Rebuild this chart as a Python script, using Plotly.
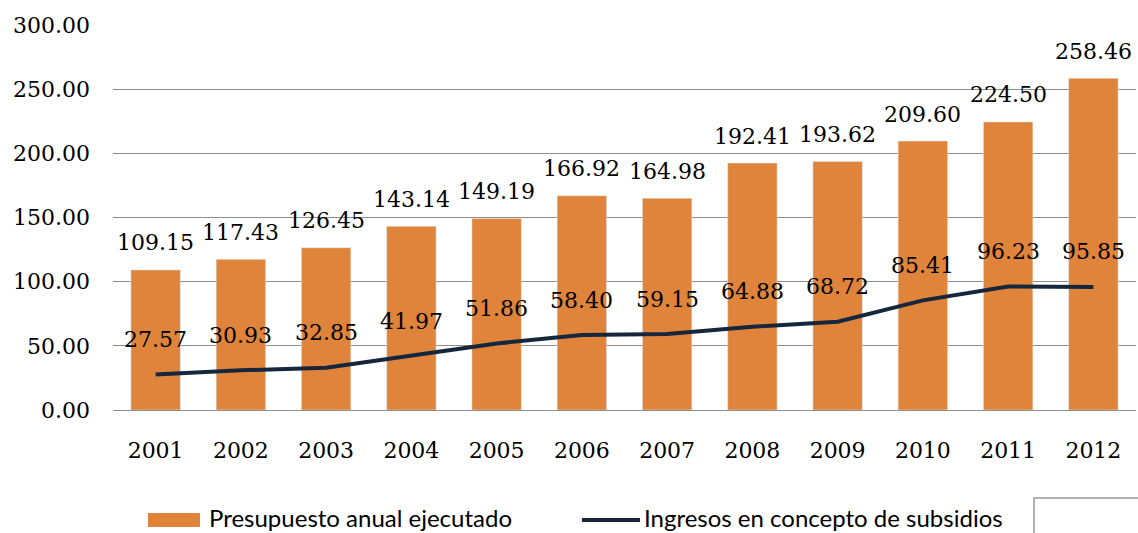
import plotly.graph_objects as go

years = ["2001", "2002", "2003", "2004", "2005", "2006",
         "2007", "2008", "2009", "2010", "2011", "2012"]
presupuesto = [109.15, 117.43, 126.45, 143.14, 149.19, 166.92,
               164.98, 192.41, 193.62, 209.60, 224.50, 258.46]
subsidios = [27.57, 30.93, 32.85, 41.97, 51.86, 58.40,
             59.15, 64.88, 68.72, 85.41, 96.23, 95.85]
y_ticks = [0, 50, 100, 150, 200, 250, 300]

BAR_COLOR = "#DF843A"
LINE_COLOR = "#16263D"
GRID_COLOR = "#8E8E8E"
NUM_FONT = dict(family="DejaVu Serif", size=22, color="#000000")
LEG_FONT = dict(family="Lato", size=24, color="#000000")

fig = go.Figure()
fig.add_trace(go.Bar(x=years, y=presupuesto, marker_color=BAR_COLOR,
                     width=0.58, name="Presupuesto anual ejecutado",
                     showlegend=False))
fig.add_trace(go.Scatter(x=years, y=subsidios, mode="lines",
                         line=dict(color=LINE_COLOR, width=4),
                         name="Ingresos en concepto de subsidios",
                         showlegend=False))

# value labels (category index positions)
for i, v in enumerate(presupuesto):
    fig.add_annotation(x=i, y=v, text=f"{v:.2f}", showarrow=False,
                       yanchor="middle", yshift=27, font=NUM_FONT)
for i, v in enumerate(subsidios):
    fig.add_annotation(x=i, y=v, text=f"{v:.2f}", showarrow=False,
                       yanchor="middle", yshift=35, font=NUM_FONT)

# legend drawn beneath the axis
LEG_Y = -0.279
fig.add_shape(type="rect", xref="paper", yref="paper",
              x0=0.0342, x1=0.0850, y0=-0.2675, y1=-0.3039,
              fillcolor=BAR_COLOR, line_width=0)
fig.add_annotation(xref="paper", yref="paper", x=0.0919, y=LEG_Y,
                   xanchor="left", yanchor="middle", showarrow=False,
                   text="Presupuesto anual ejecutado", font=LEG_FONT)
fig.add_shape(type="line", xref="paper", yref="paper",
              x0=0.4584, x1=0.5152, y0=-0.2857, y1=-0.2857,
              line=dict(color=LINE_COLOR, width=4))
fig.add_annotation(xref="paper", yref="paper", x=0.5171, y=LEG_Y,
                   xanchor="left", yanchor="middle", showarrow=False,
                   text="Ingresos en concepto de subsidios", font=LEG_FONT)
fig.add_shape(type="rect", xref="paper", yref="paper",
              x0=0.9003, x1=1.02, y0=-0.2286, y1=-0.40,
              line=dict(color="#9A9A9A", width=1.5), fillcolor="rgba(0,0,0,0)")

fig.update_layout(
    width=1138, height=533,
    margin=dict(l=113, r=2, t=25, b=123),
    paper_bgcolor="white", plot_bgcolor="white",
)
fig.update_xaxes(type="category", range=[-0.5, len(years) - 0.5],
                 showgrid=False, showline=False,
                 ticks="", tickfont=NUM_FONT, ticklabelstandoff=25)
fig.update_yaxes(range=[0, 300], tickvals=y_ticks, tickformat=".2f",
                 showgrid=True, gridcolor=GRID_COLOR, gridwidth=1.3,
                 zeroline=True, zerolinecolor=GRID_COLOR, zerolinewidth=1.3,
                 showline=False, ticks="", tickfont=NUM_FONT,
                 ticklabelstandoff=22)

fig.write_html("out.html")
